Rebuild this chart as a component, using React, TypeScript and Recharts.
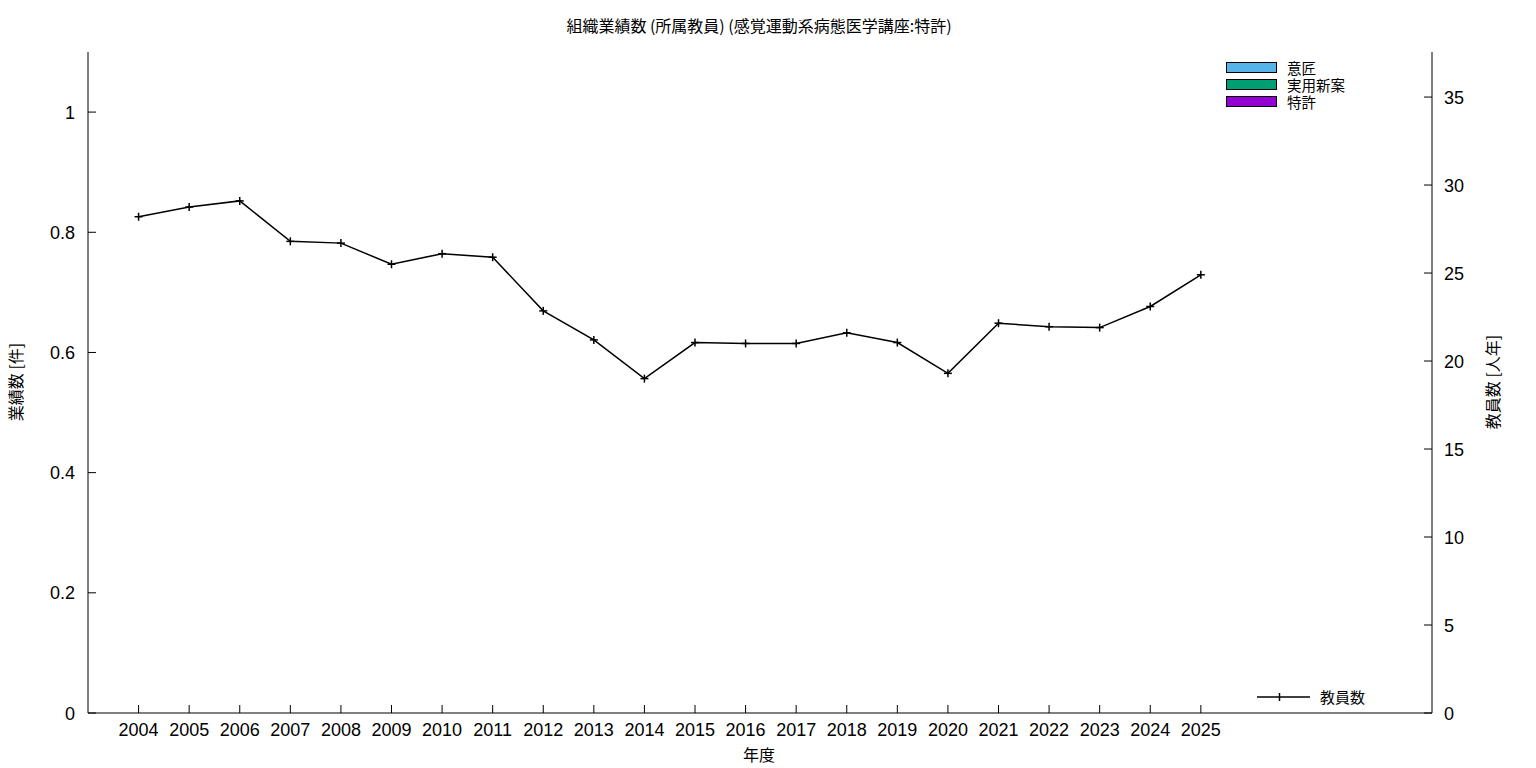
import { Bar, ComposedChart, Line, XAxis, YAxis } from "recharts";

const years = [
  2004, 2005, 2006, 2007, 2008, 2009, 2010, 2011, 2012, 2013, 2014, 2015,
  2016, 2017, 2018, 2019, 2020, 2021, 2022, 2023, 2024, 2025,
];
const staff = [
  28.2, 28.75, 29.1, 26.8, 26.7, 25.5, 26.1, 25.9, 22.85, 21.2, 19.0, 21.05,
  21.0, 21.0, 21.6, 21.05, 19.3, 22.15, 21.95, 21.9, 23.1, 24.9,
];
const design = years.map(() => 0);
const utility = years.map(() => 0);
const patent = years.map(() => 0);

const leftTicks = [0, 0.2, 0.4, 0.6, 0.8, 1];
const rightTicks = [0, 5, 10, 15, 20, 25, 30, 35];

const barSeries = [
  { key: "design", name: "意匠", color: "#56b4e9" },
  { key: "utility", name: "実用新案", color: "#009e73" },
  { key: "patent", name: "特許", color: "#9400d3" },
];

const data = years.map((y, i) => ({
  year: y,
  staff: staff[i],
  design: design[i],
  utility: utility[i],
  patent: patent[i],
}));

const FONT = "'Noto Sans CJK JP', 'Noto Sans', sans-serif";
const NUM_FONT = "'Liberation Sans', Arial, sans-serif";

const BottomTick = (p: any) => (
  <g>
    <line x1={p.x} y1={p.y} x2={p.x} y2={p.y - 8} stroke="#000" />
    <text x={p.x} y={p.y + 23} textAnchor="middle" fontSize={18} fill="#000" fontFamily={NUM_FONT}>
      {p.payload.value}
    </text>
  </g>
);

const TopTick = (p: any) => (
  <line x1={p.x} y1={p.y} x2={p.x} y2={p.y + 8} stroke="#000" />
);

const LeftTick = (p: any) => (
  <g>
    <line x1={p.x} y1={p.y} x2={p.x + 8} y2={p.y} stroke="#000" />
    <text x={p.x - 13} y={p.y + 6.5} textAnchor="end" fontSize={18} fill="#000" fontFamily={NUM_FONT}>
      {p.payload.value}
    </text>
  </g>
);

const RightTick = (p: any) => (
  <g>
    <line x1={p.x} y1={p.y} x2={p.x - 8} y2={p.y} stroke="#000" />
    <text x={p.x + 12} y={p.y + 6.5} textAnchor="start" fontSize={18} fill="#000" fontFamily={NUM_FONT}>
      {p.payload.value}
    </text>
  </g>
);

const PlusDot = (p: any) => (
  <g key={p.index}>
    <line x1={p.cx - 4} y1={p.cy} x2={p.cx + 4} y2={p.cy} stroke="#000" strokeWidth={1.5} />
    <line x1={p.cx} y1={p.cy - 4} x2={p.cx} y2={p.cy + 4} stroke="#000" strokeWidth={1.5} />
  </g>
);

export default function App() {
  return (
    <div style={{ position: "absolute", left: 0, top: 0, width: 1536, height: 768, background: "#fff", fontFamily: FONT }}>
      <ComposedChart
        width={1536}
        height={768}
        data={data}
        margin={{ top: 52, right: 0, left: 0, bottom: 0 }}
      >
        <XAxis
          xAxisId="b"
          dataKey="year"
          type="number"
          domain={[2003, 2029.57]}
          ticks={years}
          interval={0}
          height={55}
          tickSize={0}
          tickMargin={0}
          tick={BottomTick}
          axisLine={{ stroke: "#000" }}
          allowDataOverflow
        />
        <XAxis
          xAxisId="t"
          orientation="top"
          dataKey="year"
          type="number"
          domain={[2003, 2029.57]}
          ticks={years}
          interval={0}
          height={0}
          tickSize={0}
          tickMargin={0}
          tick={TopTick}
          axisLine={{ stroke: "#000" }}
          allowDataOverflow
        />
        <YAxis
          yAxisId="l"
          domain={[0, 1.1]}
          ticks={leftTicks}
          interval={0}
          width={88}
          tickSize={0}
          tickMargin={0}
          tick={LeftTick}
          axisLine={{ stroke: "#000" }}
          allowDataOverflow
        />
        <YAxis
          yAxisId="r"
          orientation="right"
          domain={[0, 37.56]}
          ticks={rightTicks}
          interval={0}
          width={104}
          tickSize={0}
          tickMargin={0}
          tick={RightTick}
          axisLine={{ stroke: "#000" }}
          allowDataOverflow
        />
        {barSeries.map((s) => (
          <Bar
            key={s.key}
            xAxisId="b"
            yAxisId="l"
            dataKey={s.key}
            name={s.name}
            fill={s.color}
            stackId="a"
            barSize={20}
            isAnimationActive={false}
          />
        ))}
        <Line
          xAxisId="b"
          yAxisId="r"
          dataKey="staff"
          name="教員数"
          stroke="#000"
          strokeWidth={1.5}
          dot={PlusDot}
          activeDot={false}
          isAnimationActive={false}
        />
      </ComposedChart>

      <div style={{ position: "absolute", left: 0, top: 13, width: 1518, textAlign: "center", fontSize: 16, lineHeight: "24px", color: "#000" }}>
        組織業績数 (所属教員) (感覚運動系病態医学講座:特許)
      </div>
      <div style={{ position: "absolute", left: 0, top: 742, width: 1518, textAlign: "center", fontSize: 16, lineHeight: "24px", color: "#000" }}>
        年度
      </div>
      <div
        style={{
          position: "absolute",
          left: 15,
          top: 382,
          transform: "translate(-50%, -50%) rotate(-90deg)",
          whiteSpace: "nowrap",
          fontSize: 16,
          lineHeight: "20px",
          color: "#000",
        }}
      >
        業績数 [件]
      </div>
      <div
        style={{
          position: "absolute",
          left: 1492,
          top: 382,
          transform: "translate(-50%, -50%) rotate(-90deg)",
          whiteSpace: "nowrap",
          fontSize: 16,
          lineHeight: "20px",
          color: "#000",
        }}
      >
        教員数 [人年]
      </div>

      {barSeries.map((s, i) => (
        <div key={s.key} style={{ position: "absolute", left: 1226, top: 61 + i * 17, height: 17 }}>
          <div
            style={{
              position: "absolute",
              left: 0,
              top: 1,
              width: 49,
              height: 9,
              background: s.color,
              border: "1px solid #000",
            }}
          />
          <div style={{ position: "absolute", left: 61, top: -1, fontSize: 14.5, lineHeight: "15px", whiteSpace: "nowrap", color: "#000" }}>
            {s.name}
          </div>
        </div>
      ))}

      <svg style={{ position: "absolute", left: 1250, top: 688 }} width={70} height={20}>
        <line x1={7} y1={9} x2={60} y2={9} stroke="#000" strokeWidth={1.5} />
        <line x1={29.5} y1={5} x2={29.5} y2={13} stroke="#000" strokeWidth={1.5} />
      </svg>
      <div style={{ position: "absolute", left: 1320, top: 688, fontSize: 15, lineHeight: "18px", whiteSpace: "nowrap", color: "#000" }}>
        教員数
      </div>
    </div>
  );
}
